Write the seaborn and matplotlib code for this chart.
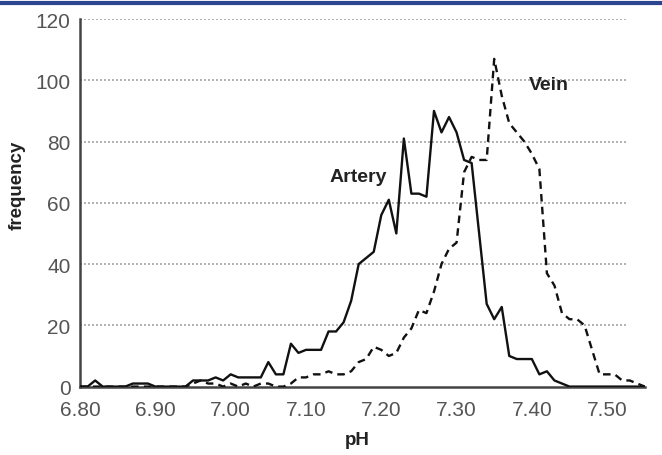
import numpy as np
import pandas as pd
import matplotlib
matplotlib.use("Agg")
import matplotlib.pyplot as plt
from matplotlib.lines import Line2D
from matplotlib.ticker import MultipleLocator, FixedLocator
import seaborn as sns

# pH categories 6.80 .. 7.55 in steps of 0.01
ph = [round(6.80 + 0.01 * i, 2) for i in range(76)]

artery = [0, 0, 2, 0, 0, 0, 0, 1, 1, 1,          # 6.80-6.89
          0, 0, 0, 0, 0, 2, 2, 2, 3, 2,          # 6.90-6.99
          4, 3, 3, 3, 3, 8, 4, 4, 14, 11,        # 7.00-7.09
          12, 12, 12, 18, 18, 21, 28, 40, 42, 44,  # 7.10-7.19
          56, 61, 50, 81, 63, 63, 62, 90, 83, 88,  # 7.20-7.29
          83, 74, 73, 50, 27, 22, 26, 10, 9, 9,    # 7.30-7.39
          9, 4, 5, 2, 1, 0, 0, 0, 0, 0,            # 7.40-7.49
          0, 0, 0, 0, 0, 0]                        # 7.50-7.55

vein = [0, 0, 0, 0, 0, 0, 0, 0, 0, 0,            # 6.80-6.89
        0, 0, 0, 0, 0, 1, 2, 1, 1, 0,            # 6.90-6.99
        1, 0, 1, 0, 1, 1, 0, 0, 1, 3,            # 7.00-7.09
        3, 4, 4, 5, 4, 4, 5, 8, 9, 13,           # 7.10-7.19
        12, 10, 11, 16, 19, 25, 24, 31, 40, 45,  # 7.20-7.29
        47, 70, 75, 74, 74, 107, 95, 86, 83, 80, # 7.30-7.39
        76, 71, 37, 33, 24, 22, 22, 20, 12, 4,   # 7.40-7.49
        4, 4, 2, 2, 1, 0]                        # 7.50-7.55

series_names = ["Artery", "Vein"]
y_ticks = [0, 20, 40, 60, 80, 100, 120]
x_tick_labels = ["6.80", "6.90", "7.00", "7.10", "7.20", "7.30", "7.40", "7.50"]

df = pd.concat([
    pd.DataFrame({"pH": ph, "frequency": artery, "vessel": "Artery"}),
    pd.DataFrame({"pH": ph, "frequency": vein, "vessel": "Vein"}),
])

sns.set_theme(style="white")
plt.rcParams["font.family"] = ["Liberation Sans", "DejaVu Sans"]

fig = plt.figure(figsize=(6.62, 4.56), dpi=100)
ax = fig.add_axes([0.121, 0.150, 0.853, 0.806])

sns.lineplot(data=df, x="pH", y="frequency", hue="vessel", style="vessel",
             palette={"Artery": "#111111", "Vein": "#111111"},
             dashes={"Artery": "", "Vein": (3.2, 2.2)},
             linewidth=1.7, legend=False, ax=ax, zorder=3)

ax.set_xlim(6.80, 7.55)
ax.set_ylim(0, 120)

# dotted horizontal gridlines
ax.hlines(y_ticks[1:], 6.80, 7.525, colors="#a5a5a5", linestyles=(0, (1.2, 1.2)),
          linewidth=1.2, zorder=1)

ax.set_yticks(y_ticks)
ax.set_yticklabels([str(v) for v in y_ticks])
ax.xaxis.set_major_locator(FixedLocator([float(t) for t in x_tick_labels]))
ax.set_xticklabels(x_tick_labels)
ax.xaxis.set_minor_locator(MultipleLocator(0.05))

for s in ["top", "right"]:
    ax.spines[s].set_visible(False)
for s in ["left", "bottom"]:
    ax.spines[s].set_color("#444444")
    ax.spines[s].set_linewidth(1.8)

ax.tick_params(axis="x", which="both", direction="inout", length=7, width=1.5,
               color="#333333", labelsize=15, labelcolor="#555555", pad=6)
ax.tick_params(axis="y", which="major", direction="out", length=4, width=1.5,
               color="#333333", labelsize=15, labelcolor="#555555", pad=3)

ax.set_xlabel("pH", fontsize=13.5, fontweight="bold", color="#222222")
ax.set_ylabel("frequency", fontsize=13.5, fontweight="bold", color="#222222")
ax.xaxis.set_label_coords(0.49, -0.12)
ax.yaxis.set_label_coords(-0.097, 0.55)

ax.text(7.169, 68.6, "Artery", fontsize=14, fontweight="bold", color="#222222",
        ha="center", va="center")
ax.text(7.423, 98.5, "Vein", fontsize=14, fontweight="bold", color="#222222",
        ha="center", va="center")

fig.add_artist(Line2D([0, 1], [0.991, 0.991], transform=fig.transFigure,
                      color="#2c4590", linewidth=3))

fig.savefig("out.png", dpi=100, facecolor="white")
